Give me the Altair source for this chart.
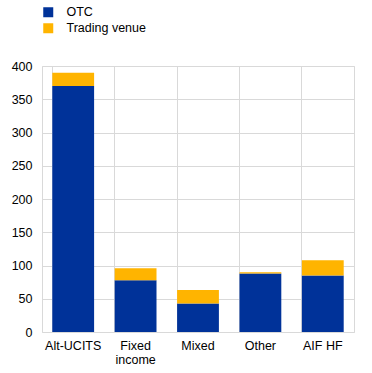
import altair as alt
import pandas as pd

categories = ["Alt-UCITS", "Fixed income", "Mixed", "Other", "AIF HF"]
otc = [370, 78, 43, 88, 85]
trading_venue = [20, 18, 20, 2, 23]
series = ["OTC", "Trading venue"]

rows = []
for c, o, t in zip(categories, otc, trading_venue):
    rows.append({"category": c, "series": series[0], "value": o, "ord": 0})
    rows.append({"category": c, "series": series[1], "value": t, "ord": 1})
df = pd.DataFrame(rows)

chart = alt.Chart(df).mark_bar().encode(
    x=alt.X("category:N", sort=categories, title=None,
            scale=alt.Scale(paddingInner=0.33, paddingOuter=0.165),
            axis=alt.Axis(labelAngle=0, ticks=False, domain=False, grid=True,
                          bandPosition=0, gridColor="#d9d9d9",
                          labelFont="Liberation Sans", labelFontSize=12.5,
                          labelColor="#000000", labelPadding=7, labelLineHeight=14,
                          labelExpr="datum.value == 'Fixed income' ? ['Fixed', 'income'] : datum.value")),
    y=alt.Y("value:Q", title=None, stack="zero",
            scale=alt.Scale(domain=[0, 400]),
            axis=alt.Axis(values=list(range(0, 401, 50)), ticks=False, domain=False,
                          gridColor="#d9d9d9", labelFont="Liberation Sans",
                          labelFontSize=12.5, labelColor="#000000", labelPadding=10)),
    color=alt.Color("series:N", sort=series,
                    scale=alt.Scale(domain=series, range=["#003299", "#ffb400"]),
                    legend=alt.Legend(title=None, orient="none", legendX=0, legendY=-60,
                                      symbolType="square", symbolSize=100,
                                      symbolStrokeWidth=0, labelFont="Liberation Sans",
                                      labelFontSize=12.5, labelColor="#000000",
                                      rowPadding=3, labelOffset=12)),
    order=alt.Order("ord:Q"),
).properties(
    width=312, height=266,
    autosize=alt.AutoSizeParams(type="none"),
    padding={"left": 42, "top": 66, "right": 18, "bottom": 41},
).configure_view(stroke="#d9d9d9")

chart.save("out.html", embed_options={"renderer": "svg", "actions": False})
